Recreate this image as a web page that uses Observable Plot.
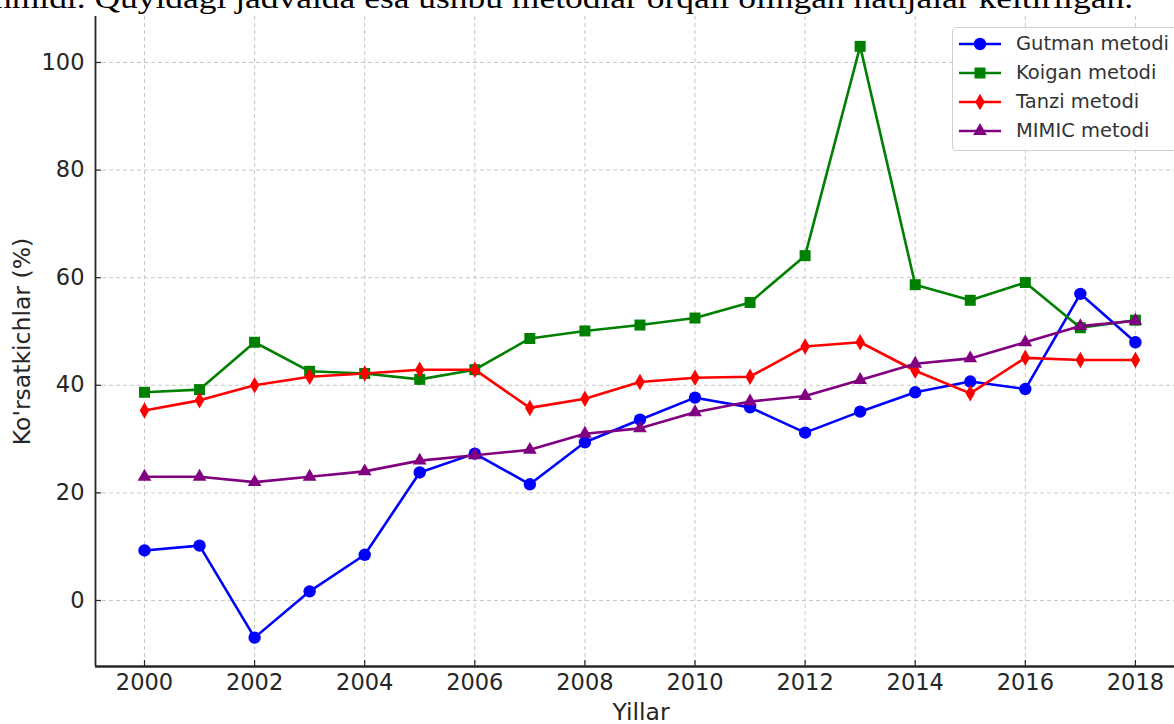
<!DOCTYPE html>
<html>
<head>
<meta charset="utf-8">
<script src="https://cdn.jsdelivr.net/npm/d3@7"></script>
<script src="https://cdn.jsdelivr.net/npm/@observablehq/plot@0.6"></script>
<style>
  html, body { margin: 0; padding: 0; background: #fff; overflow: hidden; }
  #wrap { position: relative; width: 1174px; height: 724px; }
  #head { position: absolute; left: 0; top: 0; }
  #legend { position: absolute; left: 952px; top: 27px; width: 240px; height: 124px;
    border: 1px solid #d0d0d0; border-radius: 4px; background: rgba(255,255,255,0.85);
    font-family: "DejaVu Sans", sans-serif; font-size: 19.5px; color: #333; box-sizing: border-box; }
  .row { position: absolute; left: 0; height: 29px; display: flex; align-items: center; }
  .row svg { margin-left: 5px; }
  .row span { margin-left: 14px; }
</style>
</head>
<body>
<div id="wrap"></div>
<script>
// ---- data ----
const years = [2000, 2001, 2002, 2003, 2004, 2005, 2006, 2007, 2008, 2009, 2010, 2011, 2012, 2013, 2014, 2015, 2016, 2017, 2018];
const gutman = [9.3, 10.2, -6.9, 1.7, 8.5, 23.8, 27.3, 21.6, 29.4, 33.6, 37.7, 35.9, 31.2, 35.1, 38.7, 40.7, 39.3, 57.0, 48.0];
const koigan = [38.7, 39.2, 48.0, 42.6, 42.2, 41.1, 42.9, 48.7, 50.1, 51.2, 52.5, 55.4, 64.1, 103.0, 58.7, 55.8, 59.1, 50.7, 52.1];
const tanzi  = [35.3, 37.2, 40.0, 41.6, 42.2, 42.9, 42.9, 35.8, 37.5, 40.6, 41.4, 41.6, 47.2, 48.0, 42.7, 38.5, 45.1, 44.7, 44.7];
const mimic  = [23.0, 23.0, 22.0, 23.0, 24.0, 26.0, 27.0, 28.0, 31.0, 32.0, 35.0, 37.0, 38.0, 41.0, 44.0, 45.0, 48.0, 51.0, 52.0];
const seriesNames = ["Gutman metodi", "Koigan metodi", "Tanzi metodi", "MIMIC metodi"];
const seriesColors = ["blue", "green", "red", "purple"];
const seriesSymbols = ["circle", "square", "diamond", "triangle"];
const seriesR = [6.2, 6.2, 5, 5.1];
const xTicks = [2000, 2002, 2004, 2006, 2008, 2010, 2012, 2014, 2016, 2018];
const yTicks = [0, 20, 40, 60, 80, 100];
const xLabel = "Yillar";
const yLabel = "Ko'rsatkichlar (%)";
const headText = "nmidi. Quyidagi jadvalda esa ushbu metodlar orqali olingan natijalar keltirilgan.";

const values = [gutman, koigan, tanzi, mimic];
const W = 1174, H = 724, mL = 95, mR = 0, mT = 16, mB = 58;
const xDomain = [1999.11, 2018.71];
const yDomain = [-12.27, 108.55];
const frameW = W - mL - mR, frameH = H - mT - mB;

const marks = [
  Plot.gridX(xTicks, {stroke: "#c8c8c8", strokeOpacity: 1, strokeDasharray: "4,3", strokeWidth: 1}),
  Plot.gridY(yTicks, {stroke: "#c8c8c8", strokeOpacity: 1, strokeDasharray: "4,3", strokeWidth: 1}),
];
values.forEach((vals, i) => {
  const rows = years.map((y, j) => ({year: y, value: vals[j]}));
  marks.push(Plot.line(rows, {x: "year", y: "value", stroke: seriesColors[i], strokeWidth: 2.6}));
  marks.push(Plot.dot(rows, {x: "year", y: "value", symbol: seriesSymbols[i], fill: seriesColors[i], stroke: "none", r: seriesR[i]}));
});
marks.push(
  Plot.ruleX(xTicks, {stroke: "#262626", strokeWidth: 1.2, insetTop: frameH - 6}),
  Plot.ruleY(yTicks, {stroke: "#262626", strokeWidth: 1.2, insetRight: frameW - 6}),
  Plot.ruleY([yDomain[0]], {stroke: "#262626", strokeWidth: 2.6}),
  Plot.ruleX([xDomain[0]], {stroke: "#262626", strokeWidth: 1.8}),
  Plot.axisX(xTicks, {tickSize: 0, tickPadding: 8, tickFormat: d => String(d), label: null, fill: "#262626", className: "tk"}),
  Plot.axisY(yTicks, {tickSize: 0, tickPadding: 11, tickFormat: d => String(d), label: null, fill: "#262626", className: "tk"}),
  Plot.text([xLabel], {text: d => d, frameAnchor: "bottom", dy: 53, dx: 6, fill: "#262626", className: "lb"}),
  Plot.text([yLabel], {text: d => d, frameAnchor: "left", textAnchor: "middle", rotate: -90, dx: -73, fill: "#262626", className: "lb"})
);

const chart = Plot.plot({
  width: W, height: H,
  marginLeft: mL, marginRight: mR, marginTop: mT, marginBottom: mB,
  x: {domain: xDomain, axis: null},
  y: {domain: yDomain, axis: null},
  style: {fontFamily: "DejaVu Sans, sans-serif", background: "#fff", color: "#262626"},
  marks
});
chart.querySelectorAll("text").forEach(el => { el.style.fontSize = "22.5px"; el.style.fontFamily = "'DejaVu Sans', sans-serif"; });
chart.querySelectorAll(".lb text").forEach(el => { el.style.fontSize = "23.5px"; });
const wrap = document.getElementById("wrap");
wrap.appendChild(chart);

// header text (cut-off line of the surrounding document)
const ns = "http://www.w3.org/2000/svg";
const head = document.createElementNS(ns, "svg");
head.setAttribute("id", "head");
head.setAttribute("width", W); head.setAttribute("height", 20);
const t = document.createElementNS(ns, "text");
t.setAttribute("x", -6); t.setAttribute("y", 8.3);
t.setAttribute("textLength", 1139);
t.setAttribute("lengthAdjust", "spacingAndGlyphs");
t.setAttribute("font-family", "Liberation Serif, serif");
t.setAttribute("font-size", 29);
t.setAttribute("fill", "#000");
t.textContent = headText;
head.appendChild(t);
wrap.appendChild(head);

// legend
const leg = document.createElement("div");
leg.id = "legend";
seriesNames.forEach((name, i) => {
  const row = document.createElement("div");
  row.className = "row";
  row.style.top = (1 + i * 29) + "px";
  const s = document.createElementNS(ns, "svg");
  s.setAttribute("width", 44); s.setAttribute("height", 20);
  const l = document.createElementNS(ns, "line");
  l.setAttribute("x1", 1); l.setAttribute("x2", 43); l.setAttribute("y1", 10); l.setAttribute("y2", 10);
  l.setAttribute("stroke", seriesColors[i]); l.setAttribute("stroke-width", 2.6);
  s.appendChild(l);
  const symMap = {circle: d3.symbolCircle, square: d3.symbolSquare, diamond: d3.symbolDiamond, triangle: d3.symbolTriangle};
  const p = document.createElementNS(ns, "path");
  p.setAttribute("d", d3.symbol(symMap[seriesSymbols[i]], Math.PI * seriesR[i] * seriesR[i])());
  p.setAttribute("transform", "translate(22,10)");
  p.setAttribute("fill", seriesColors[i]);
  s.appendChild(p);
  row.appendChild(s);
  const sp = document.createElement("span");
  sp.textContent = name;
  row.appendChild(sp);
  leg.appendChild(row);
});
wrap.appendChild(leg);
</script>
</body>
</html>
